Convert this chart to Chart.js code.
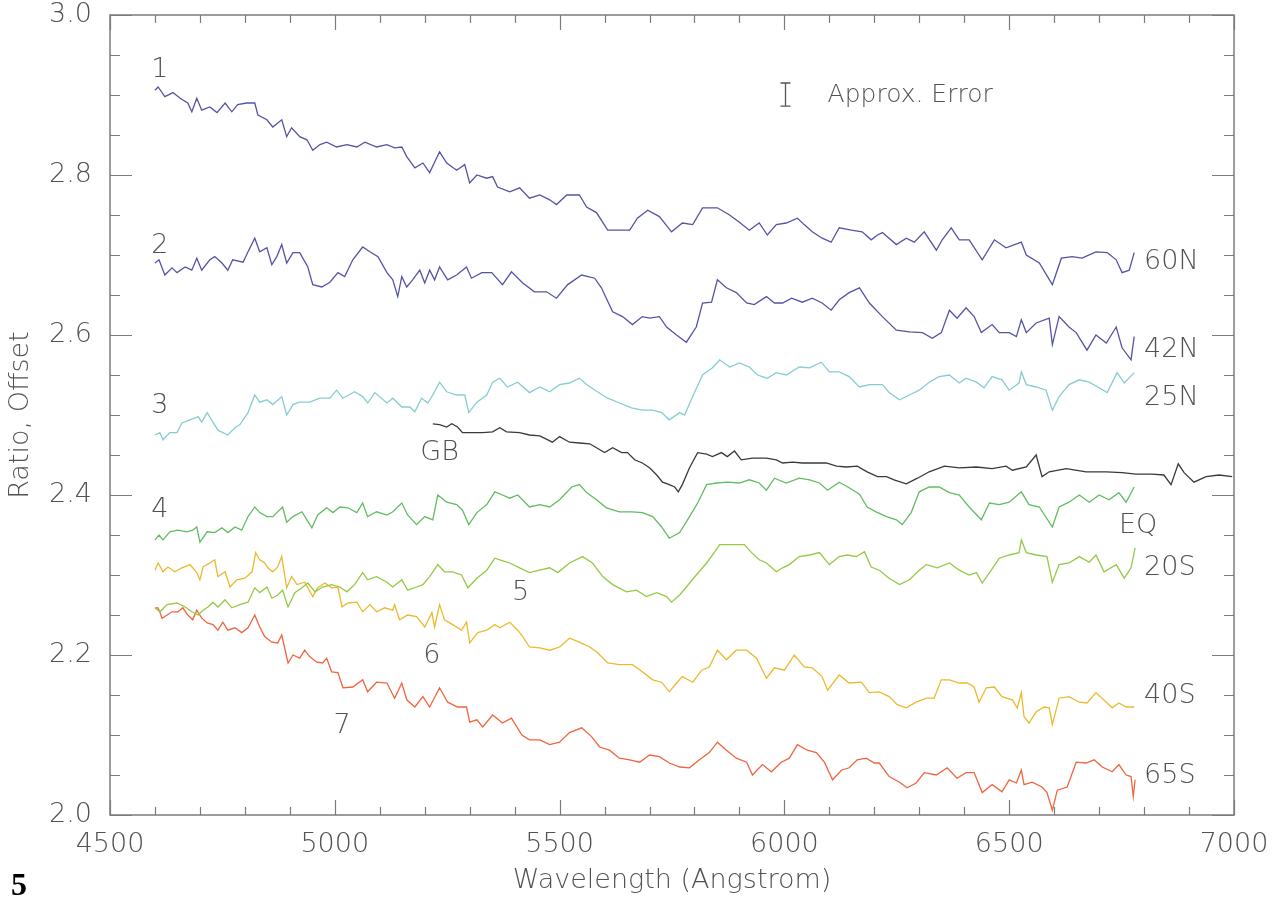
<!DOCTYPE html>
<html><head><meta charset="utf-8">
<script src="https://cdn.jsdelivr.net/npm/chart.js@4.4.1/dist/chart.umd.min.js"></script>
<style>
html,body{margin:0;padding:0;background:#fff;}
#wrap{position:relative;width:1274px;height:901px;}
#fig{position:absolute;left:11px;top:866px;font:bold 32px 'Liberation Serif',serif;color:#000;}
</style></head><body>
<div id="wrap"><canvas id="c" width="1274" height="901"></canvas><div id="fig">5</div></div>
<script>
// ---- data (wavelength in Angstrom, ratio + offset) ----
const s60N = [[4600,2.906],[4607,2.910],[4622,2.898],[4640,2.903],[4656,2.896],[4673,2.890],[4682,2.879],[4693,2.896],[4704,2.881],[4722,2.885],[4738,2.878],[4756,2.890],[4771,2.879],[4784,2.888],[4804,2.890],[4822,2.890],[4829,2.875],[4849,2.869],[4862,2.860],[4882,2.869],[4893,2.848],[4904,2.859],[4922,2.848],[4938,2.844],[4951,2.831],[4967,2.838],[4982,2.841],[5004,2.835],[5027,2.838],[5049,2.835],[5067,2.841],[5093,2.835],[5116,2.838],[5133,2.834],[5149,2.835],[5160,2.823],[5178,2.809],[5196,2.815],[5211,2.803],[5233,2.829],[5249,2.815],[5271,2.806],[5289,2.813],[5300,2.790],[5316,2.800],[5338,2.796],[5351,2.798],[5362,2.785],[5389,2.779],[5411,2.784],[5433,2.771],[5456,2.775],[5478,2.769],[5493,2.763],[5516,2.775],[5544,2.775],[5560,2.760],[5582,2.753],[5607,2.731],[5633,2.731],[5656,2.731],[5673,2.746],[5696,2.756],[5722,2.748],[5749,2.729],[5773,2.740],[5796,2.738],[5818,2.759],[5851,2.759],[5878,2.750],[5900,2.741],[5922,2.731],[5944,2.740],[5962,2.725],[5982,2.738],[6004,2.740],[6029,2.746],[6044,2.738],[6062,2.729],[6084,2.721],[6104,2.716],[6122,2.734],[6149,2.731],[6173,2.729],[6193,2.719],[6207,2.725],[6218,2.728],[6249,2.713],[6271,2.721],[6289,2.716],[6311,2.729],[6338,2.706],[6351,2.719],[6371,2.734],[6389,2.719],[6411,2.719],[6440,2.694],[6467,2.719],[6493,2.709],[6527,2.716],[6538,2.700],[6567,2.690],[6596,2.663],[6616,2.696],[6640,2.698],[6662,2.696],[6693,2.704],[6718,2.703],[6738,2.694],[6751,2.678],[6767,2.681],[6778,2.703]];
const s42N = [[4600,2.690],[4609,2.694],[4622,2.675],[4638,2.684],[4649,2.678],[4667,2.685],[4682,2.681],[4693,2.696],[4704,2.681],[4722,2.694],[4733,2.698],[4749,2.690],[4762,2.681],[4773,2.694],[4796,2.691],[4807,2.704],[4822,2.721],[4833,2.704],[4849,2.709],[4860,2.688],[4871,2.698],[4882,2.713],[4893,2.690],[4907,2.703],[4922,2.703],[4940,2.685],[4951,2.663],[4971,2.660],[4989,2.666],[5007,2.678],[5022,2.673],[5040,2.694],[5062,2.710],[5078,2.704],[5096,2.698],[5116,2.678],[5129,2.669],[5140,2.648],[5149,2.673],[5160,2.660],[5173,2.669],[5189,2.681],[5200,2.665],[5211,2.681],[5222,2.669],[5233,2.685],[5251,2.669],[5271,2.675],[5293,2.685],[5304,2.671],[5327,2.678],[5349,2.678],[5373,2.663],[5393,2.679],[5418,2.665],[5444,2.654],[5471,2.654],[5493,2.646],[5518,2.663],[5549,2.675],[5578,2.671],[5593,2.659],[5618,2.629],[5640,2.623],[5662,2.613],[5684,2.623],[5700,2.621],[5722,2.623],[5738,2.610],[5760,2.600],[5782,2.591],[5804,2.610],[5818,2.640],[5838,2.641],[5851,2.669],[5871,2.659],[5893,2.653],[5916,2.640],[5933,2.638],[5960,2.648],[5978,2.640],[5996,2.640],[6016,2.646],[6040,2.641],[6062,2.646],[6084,2.640],[6104,2.631],[6122,2.644],[6144,2.653],[6167,2.659],[6189,2.640],[6218,2.623],[6249,2.606],[6278,2.604],[6307,2.603],[6329,2.596],[6349,2.603],[6367,2.631],[6384,2.621],[6404,2.634],[6422,2.623],[6438,2.603],[6462,2.613],[6478,2.603],[6500,2.603],[6516,2.598],[6527,2.619],[6538,2.603],[6560,2.615],[6589,2.621],[6596,2.588],[6611,2.623],[6633,2.610],[6649,2.603],[6673,2.581],[6693,2.600],[6716,2.590],[6738,2.610],[6751,2.584],[6771,2.569],[6778,2.598]];
const s25N = [[4600,2.475],[4611,2.478],[4618,2.469],[4633,2.478],[4649,2.478],[4660,2.490],[4678,2.494],[4696,2.498],[4704,2.491],[4716,2.503],[4729,2.491],[4740,2.481],[4762,2.475],[4778,2.484],[4789,2.488],[4807,2.503],[4822,2.525],[4833,2.516],[4849,2.519],[4862,2.513],[4882,2.523],[4893,2.500],[4907,2.513],[4922,2.516],[4944,2.516],[4967,2.521],[4989,2.521],[5004,2.531],[5018,2.521],[5044,2.529],[5062,2.523],[5073,2.515],[5089,2.528],[5116,2.515],[5129,2.521],[5149,2.510],[5167,2.510],[5178,2.504],[5193,2.521],[5207,2.515],[5218,2.525],[5233,2.541],[5249,2.529],[5271,2.525],[5289,2.525],[5298,2.503],[5316,2.516],[5338,2.525],[5351,2.541],[5367,2.546],[5384,2.535],[5407,2.541],[5433,2.528],[5456,2.535],[5478,2.529],[5500,2.538],[5522,2.540],[5544,2.546],[5560,2.538],[5584,2.529],[5607,2.521],[5633,2.515],[5660,2.509],[5684,2.506],[5707,2.506],[5727,2.503],[5744,2.494],[5767,2.503],[5778,2.500],[5796,2.523],[5818,2.550],[5840,2.559],[5856,2.569],[5878,2.560],[5900,2.565],[5922,2.560],[5940,2.550],[5962,2.546],[5982,2.553],[6004,2.550],[6033,2.560],[6056,2.559],[6082,2.566],[6100,2.554],[6122,2.554],[6144,2.548],[6167,2.535],[6189,2.538],[6218,2.538],[6233,2.528],[6256,2.519],[6278,2.525],[6300,2.531],[6322,2.541],[6344,2.548],[6367,2.550],[6389,2.540],[6404,2.546],[6427,2.541],[6444,2.534],[6462,2.548],[6484,2.544],[6500,2.531],[6522,2.540],[6527,2.554],[6538,2.538],[6560,2.535],[6582,2.531],[6596,2.506],[6611,2.523],[6633,2.538],[6656,2.544],[6678,2.541],[6700,2.534],[6718,2.528],[6740,2.553],[6756,2.540],[6778,2.553]];
const sGB = [[5218,2.489],[5233,2.488],[5249,2.485],[5260,2.489],[5273,2.485],[5284,2.478],[5307,2.478],[5329,2.478],[5351,2.479],[5367,2.484],[5382,2.479],[5411,2.478],[5433,2.475],[5456,2.474],[5484,2.466],[5500,2.473],[5522,2.466],[5544,2.465],[5567,2.464],[5582,2.459],[5600,2.453],[5618,2.459],[5638,2.453],[5651,2.453],[5667,2.444],[5684,2.440],[5700,2.434],[5716,2.425],[5729,2.416],[5744,2.413],[5756,2.410],[5764,2.404],[5773,2.413],[5789,2.434],[5807,2.453],[5827,2.451],[5840,2.448],[5860,2.453],[5873,2.448],[5889,2.455],[5904,2.444],[5929,2.446],[5960,2.446],[5982,2.444],[5996,2.440],[6018,2.441],[6040,2.440],[6062,2.440],[6093,2.440],[6116,2.436],[6138,2.435],[6162,2.436],[6184,2.429],[6207,2.423],[6227,2.423],[6244,2.419],[6271,2.414],[6296,2.421],[6322,2.429],[6356,2.436],[6389,2.434],[6427,2.435],[6462,2.433],[6493,2.436],[6507,2.431],[6538,2.435],[6560,2.450],[6573,2.423],[6589,2.429],[6627,2.433],[6671,2.429],[6716,2.429],[6751,2.428],[6782,2.426],[6818,2.426],[6844,2.425],[6860,2.413],[6876,2.439],[6889,2.428],[6911,2.416],[6938,2.423],[6967,2.425],[6996,2.423]];
const sEQ = [[4600,2.344],[4609,2.350],[4618,2.344],[4633,2.354],[4651,2.356],[4671,2.354],[4684,2.356],[4693,2.360],[4700,2.341],[4716,2.354],[4733,2.353],[4749,2.359],[4762,2.353],[4778,2.360],[4793,2.356],[4807,2.373],[4822,2.385],[4833,2.378],[4849,2.373],[4862,2.373],[4884,2.385],[4893,2.366],[4907,2.373],[4927,2.379],[4949,2.359],[4962,2.375],[4982,2.384],[4996,2.378],[5011,2.385],[5029,2.384],[5049,2.378],[5062,2.390],[5073,2.373],[5093,2.379],[5116,2.375],[5129,2.379],[5149,2.390],[5162,2.375],[5182,2.363],[5200,2.373],[5218,2.369],[5229,2.400],[5249,2.391],[5271,2.388],[5284,2.381],[5298,2.363],[5316,2.378],[5338,2.388],[5356,2.404],[5373,2.400],[5389,2.396],[5407,2.400],[5433,2.385],[5456,2.388],[5478,2.385],[5500,2.394],[5527,2.410],[5544,2.413],[5560,2.403],[5582,2.394],[5604,2.384],[5633,2.379],[5662,2.379],[5684,2.378],[5707,2.373],[5727,2.360],[5744,2.346],[5767,2.353],[5789,2.373],[5807,2.390],[5827,2.413],[5849,2.415],[5873,2.416],[5900,2.415],[5922,2.419],[5944,2.415],[5960,2.406],[5978,2.421],[6004,2.415],[6033,2.421],[6056,2.419],[6078,2.415],[6096,2.406],[6122,2.416],[6144,2.409],[6167,2.401],[6184,2.385],[6204,2.379],[6227,2.373],[6249,2.369],[6262,2.363],[6282,2.378],[6300,2.404],[6322,2.410],[6344,2.410],[6367,2.403],[6389,2.400],[6411,2.385],[6438,2.369],[6456,2.390],[6478,2.388],[6500,2.391],[6527,2.404],[6544,2.388],[6567,2.385],[6596,2.360],[6611,2.385],[6633,2.391],[6656,2.400],[6678,2.391],[6700,2.400],[6722,2.394],[6744,2.403],[6760,2.391],[6778,2.410]];
const s20S = [[4600,2.259],[4611,2.254],[4627,2.263],[4649,2.265],[4667,2.260],[4682,2.254],[4696,2.250],[4707,2.256],[4718,2.260],[4729,2.266],[4740,2.260],[4756,2.269],[4771,2.259],[4789,2.263],[4807,2.266],[4822,2.284],[4833,2.278],[4849,2.285],[4860,2.271],[4873,2.275],[4884,2.281],[4896,2.260],[4911,2.278],[4927,2.284],[4940,2.290],[4956,2.279],[4973,2.285],[4993,2.288],[5011,2.285],[5027,2.279],[5044,2.288],[5062,2.303],[5073,2.294],[5093,2.298],[5116,2.291],[5129,2.285],[5149,2.294],[5162,2.281],[5182,2.285],[5196,2.288],[5211,2.298],[5229,2.313],[5244,2.304],[5262,2.304],[5282,2.300],[5296,2.284],[5316,2.296],[5338,2.306],[5356,2.321],[5367,2.319],[5389,2.315],[5411,2.309],[5433,2.303],[5456,2.306],[5478,2.309],[5496,2.303],[5522,2.315],[5551,2.323],[5573,2.315],[5596,2.298],[5618,2.288],[5649,2.279],[5671,2.281],[5693,2.273],[5716,2.278],[5738,2.273],[5749,2.266],[5767,2.275],[5782,2.285],[5804,2.300],[5827,2.315],[5844,2.328],[5856,2.338],[5884,2.338],[5911,2.338],[5927,2.328],[5944,2.319],[5960,2.315],[5982,2.304],[5996,2.309],[6011,2.313],[6033,2.323],[6056,2.325],[6078,2.328],[6100,2.313],[6122,2.323],[6140,2.325],[6160,2.323],[6178,2.329],[6193,2.310],[6211,2.306],[6233,2.296],[6256,2.288],[6278,2.294],[6300,2.306],[6316,2.313],[6340,2.309],[6367,2.315],[6389,2.306],[6411,2.300],[6427,2.303],[6440,2.290],[6460,2.306],[6478,2.321],[6500,2.325],[6522,2.328],[6527,2.344],[6538,2.328],[6560,2.325],[6584,2.323],[6596,2.291],[6611,2.313],[6633,2.315],[6656,2.323],[6678,2.316],[6693,2.325],[6711,2.304],[6738,2.313],[6756,2.296],[6771,2.309],[6780,2.334]];
const s40S = [[4600,2.306],[4607,2.315],[4618,2.304],[4629,2.310],[4644,2.304],[4660,2.309],[4678,2.313],[4693,2.303],[4700,2.294],[4707,2.310],[4722,2.315],[4733,2.319],[4740,2.298],[4756,2.304],[4767,2.285],[4782,2.294],[4800,2.296],[4816,2.304],[4824,2.328],[4833,2.319],[4844,2.315],[4851,2.309],[4862,2.304],[4873,2.310],[4882,2.323],[4893,2.284],[4904,2.298],[4916,2.288],[4933,2.291],[4951,2.273],[4962,2.284],[4978,2.290],[4993,2.284],[5007,2.285],[5016,2.260],[5029,2.265],[5049,2.266],[5062,2.254],[5078,2.263],[5093,2.254],[5111,2.259],[5129,2.256],[5133,2.263],[5144,2.244],[5162,2.250],[5182,2.248],[5200,2.235],[5216,2.253],[5222,2.235],[5233,2.263],[5244,2.244],[5262,2.238],[5282,2.231],[5293,2.241],[5300,2.215],[5318,2.228],[5338,2.231],[5356,2.238],[5367,2.234],[5389,2.241],[5407,2.231],[5418,2.223],[5433,2.210],[5456,2.209],[5478,2.206],[5500,2.210],[5522,2.221],[5544,2.216],[5567,2.210],[5584,2.203],[5607,2.190],[5633,2.188],[5662,2.188],[5684,2.179],[5707,2.169],[5727,2.166],[5744,2.154],[5760,2.165],[5773,2.173],[5796,2.166],[5816,2.181],[5833,2.185],[5851,2.206],[5871,2.194],[5893,2.206],[5916,2.206],[5938,2.196],[5960,2.171],[5978,2.184],[6000,2.181],[6022,2.200],[6044,2.185],[6062,2.184],[6084,2.173],[6096,2.156],[6122,2.175],[6144,2.165],[6171,2.166],[6189,2.153],[6211,2.154],[6233,2.148],[6251,2.138],[6271,2.134],[6293,2.141],[6316,2.146],[6333,2.146],[6349,2.169],[6367,2.169],[6389,2.165],[6407,2.165],[6422,2.160],[6433,2.141],[6449,2.159],[6467,2.160],[6484,2.148],[6507,2.144],[6518,2.134],[6527,2.153],[6533,2.123],[6544,2.115],[6560,2.129],[6578,2.135],[6589,2.134],[6596,2.113],[6611,2.146],[6633,2.148],[6656,2.141],[6673,2.140],[6693,2.153],[6716,2.141],[6729,2.134],[6744,2.140],[6760,2.135],[6778,2.135]];
const s65S = [[4600,2.259],[4607,2.259],[4616,2.246],[4627,2.250],[4638,2.254],[4651,2.254],[4662,2.259],[4673,2.250],[4684,2.244],[4693,2.256],[4704,2.246],[4716,2.240],[4729,2.238],[4740,2.231],[4751,2.241],[4762,2.231],[4778,2.234],[4793,2.228],[4807,2.234],[4822,2.250],[4833,2.235],[4844,2.223],[4860,2.216],[4873,2.215],[4882,2.225],[4896,2.190],[4907,2.200],[4922,2.196],[4933,2.206],[4944,2.198],[4960,2.191],[4973,2.190],[4982,2.196],[4993,2.179],[5007,2.178],[5018,2.159],[5040,2.160],[5062,2.169],[5073,2.154],[5093,2.166],[5116,2.165],[5133,2.146],[5149,2.165],[5160,2.144],[5178,2.135],[5196,2.148],[5211,2.135],[5233,2.159],[5251,2.141],[5273,2.135],[5293,2.135],[5300,2.116],[5316,2.119],[5329,2.110],[5351,2.125],[5373,2.115],[5393,2.121],[5416,2.100],[5433,2.094],[5456,2.094],[5478,2.088],[5500,2.091],[5522,2.103],[5549,2.109],[5571,2.098],[5589,2.085],[5611,2.081],[5633,2.071],[5656,2.069],[5678,2.066],[5700,2.075],[5722,2.073],[5744,2.065],[5767,2.060],[5789,2.059],[5811,2.069],[5833,2.078],[5851,2.091],[5871,2.081],[5893,2.071],[5916,2.066],[5929,2.050],[5951,2.063],[5971,2.054],[5993,2.066],[6011,2.071],[6029,2.088],[6051,2.081],[6071,2.078],[6089,2.066],[6107,2.044],[6127,2.056],[6144,2.059],[6162,2.069],[6182,2.071],[6200,2.065],[6211,2.065],[6233,2.048],[6256,2.041],[6273,2.034],[6293,2.040],[6311,2.053],[6338,2.050],[6362,2.059],[6384,2.046],[6404,2.053],[6422,2.053],[6440,2.028],[6462,2.038],[6484,2.029],[6500,2.044],[6516,2.040],[6527,2.056],[6533,2.038],[6551,2.041],[6573,2.035],[6584,2.028],[6596,2.006],[6607,2.031],[6629,2.035],[6649,2.066],[6671,2.065],[6689,2.069],[6707,2.060],[6729,2.054],[6744,2.063],[6760,2.050],[6771,2.048],[6776,2.023],[6780,2.044]];

// Series colours / names
const seriesNames = ['60N','42N','25N','GB','EQ','20S','40S','65S'];
const seriesData = [s60N, s42N, s25N, sGB, sEQ, s20S, s40S, s65S];
const seriesColors = ['#5454a6','#5454a6','#86cdd2','#3a3a3a','#62bc62','#93c944','#ecb92e','#f2643f'];

// Axis ranges and ticks
const xRange = [4500, 7000], xMajor = 500, xMinor = 100;
const yRange = [2.0, 3.0], yMajor = 0.2, yMinor = 0.05;

// Text annotations [text, wavelength, value, align, size]
const curveLabels = [
  ['1',4611,2.931,'center',27],['2',4611,2.711,'center',27],['3',4611,2.511,'center',27],['4',4611,2.381,'center',27],
  ['5',5413,2.278,'center',27],['6',5216,2.199,'center',27],['7',5016,2.111,'center',27],['GB',5233,2.453,'center',27],
  ['60N',6800,2.691,'left',27],['42N',6800,2.581,'left',27],['25N',6800,2.521,'left',27],['EQ',6744,2.361,'left',27],
  ['20S',6800,2.309,'left',27],['40S',6800,2.149,'left',27],['65S',6800,2.049,'left',27],
  ['Approx. Error',6096,2.900,'left',25]
];
// Approx. error bar: [wavelength, low, high]
const errorBar = [6002, 2.886, 2.915];

const FONT = "'DejaVu Sans', sans-serif";
const TXT = '#525252';
const AX = '#7c7c7c';

const boxPlugin = {
  id: 'boxTicks',
  afterDatasetsDraw(chart) {
    const {ctx, chartArea: {left, right, top, bottom}, scales: {x, y}} = chart;
    ctx.save();
    ctx.strokeStyle = AX; ctx.lineWidth = 1.5;
    ctx.strokeRect(left, top, right - left, bottom - top);
    ctx.lineWidth = 1.2;
    ctx.beginPath();
    for (let v = xRange[0]; v <= xRange[1] + 1e-6; v += xMinor) {
      const px = Math.round(x.getPixelForValue(v)) + 0.5;
      const L = (Math.abs(v % xMajor) < 1e-6) ? 15 : 8;
      ctx.moveTo(px, bottom); ctx.lineTo(px, bottom - L);
      ctx.moveTo(px, top); ctx.lineTo(px, top + L);
    }
    const nY = Math.round((yRange[1] - yRange[0]) / yMinor);
    const per = Math.round(yMajor / yMinor);
    for (let i = 0; i <= nY; i++) {
      const v = yRange[0] + i * yMinor;
      const py = Math.round(y.getPixelForValue(v)) + 0.5;
      const L = (i % per === 0) ? 22 : 10;
      ctx.moveTo(left, py); ctx.lineTo(left + L, py);
      ctx.moveTo(right, py); ctx.lineTo(right - L, py);
    }
    ctx.stroke();
    // error bar
    const ex = Math.round(x.getPixelForValue(errorBar[0])) + 0.5;
    const ey1 = y.getPixelForValue(errorBar[1]), ey2 = y.getPixelForValue(errorBar[2]);
    ctx.strokeStyle = '#555'; ctx.lineWidth = 1.3;
    ctx.beginPath();
    ctx.moveTo(ex, ey1); ctx.lineTo(ex, ey2);
    ctx.moveTo(ex - 5, ey1); ctx.lineTo(ex + 5, ey1);
    ctx.moveTo(ex - 5, ey2); ctx.lineTo(ex + 5, ey2);
    ctx.stroke();
    // labels
    ctx.fillStyle = TXT;
    ctx.textBaseline = 'middle';
    for (const [t, wx, wy, al, sz] of curveLabels) {
      ctx.font = "200 " + sz + "px " + FONT;
      ctx.textAlign = al;
      ctx.fillText(t, x.getPixelForValue(wx), y.getPixelForValue(wy));
    }
    ctx.restore();
  }
};

new Chart(document.getElementById('c'), {
  type: 'line',
  data: {
    datasets: seriesData.map((d, i) => ({
      label: seriesNames[i],
      data: d.map(p => ({x: p[0], y: p[1]})),
      borderColor: seriesColors[i],
      borderWidth: 1.3,
      pointRadius: 0,
      tension: 0,
      fill: false
    }))
  },
  options: {
    responsive: false,
    animation: false,
    layout: {padding: {left: 0, right: 40, top: 15, bottom: 0}},
    plugins: {legend: {display: false}, tooltip: {enabled: false}},
    scales: {
      x: {
        type: 'linear', min: xRange[0], max: xRange[1],
        grid: {display: false, drawTicks: false}, border: {display: false},
        ticks: {stepSize: xMajor, padding: 14, color: TXT, font: {family: FONT, size: 27, weight: 200}, callback: v => String(v), maxRotation: 0},
        title: {display: true, text: 'Wavelength (Angstrom)', color: TXT, font: {family: FONT, size: 27, weight: 200}, padding: {top: 0, bottom: 4}},
        afterFit: s => { s.height = 86; s.paddingLeft = 0; s.paddingRight = 0; s.paddingTop = 0; s.paddingBottom = 0; }
      },
      y: {
        type: 'linear', min: yRange[0], max: yRange[1],
        grid: {display: false, drawTicks: false}, border: {display: false},
        ticks: {stepSize: yMajor, padding: 18, color: TXT, font: {family: FONT, size: 27, weight: 200}, callback: v => v.toFixed(1)},
        title: {display: true, text: 'Ratio, Offset', color: TXT, font: {family: FONT, size: 27, weight: 200}, padding: {top: 5, bottom: 0}},
        afterFit: s => { s.width = 110; s.paddingTop = 0; s.paddingBottom = 0; s.paddingLeft = 0; s.paddingRight = 0; }
      }
    }
  },
  plugins: [boxPlugin]
});
</script>
</body></html>
